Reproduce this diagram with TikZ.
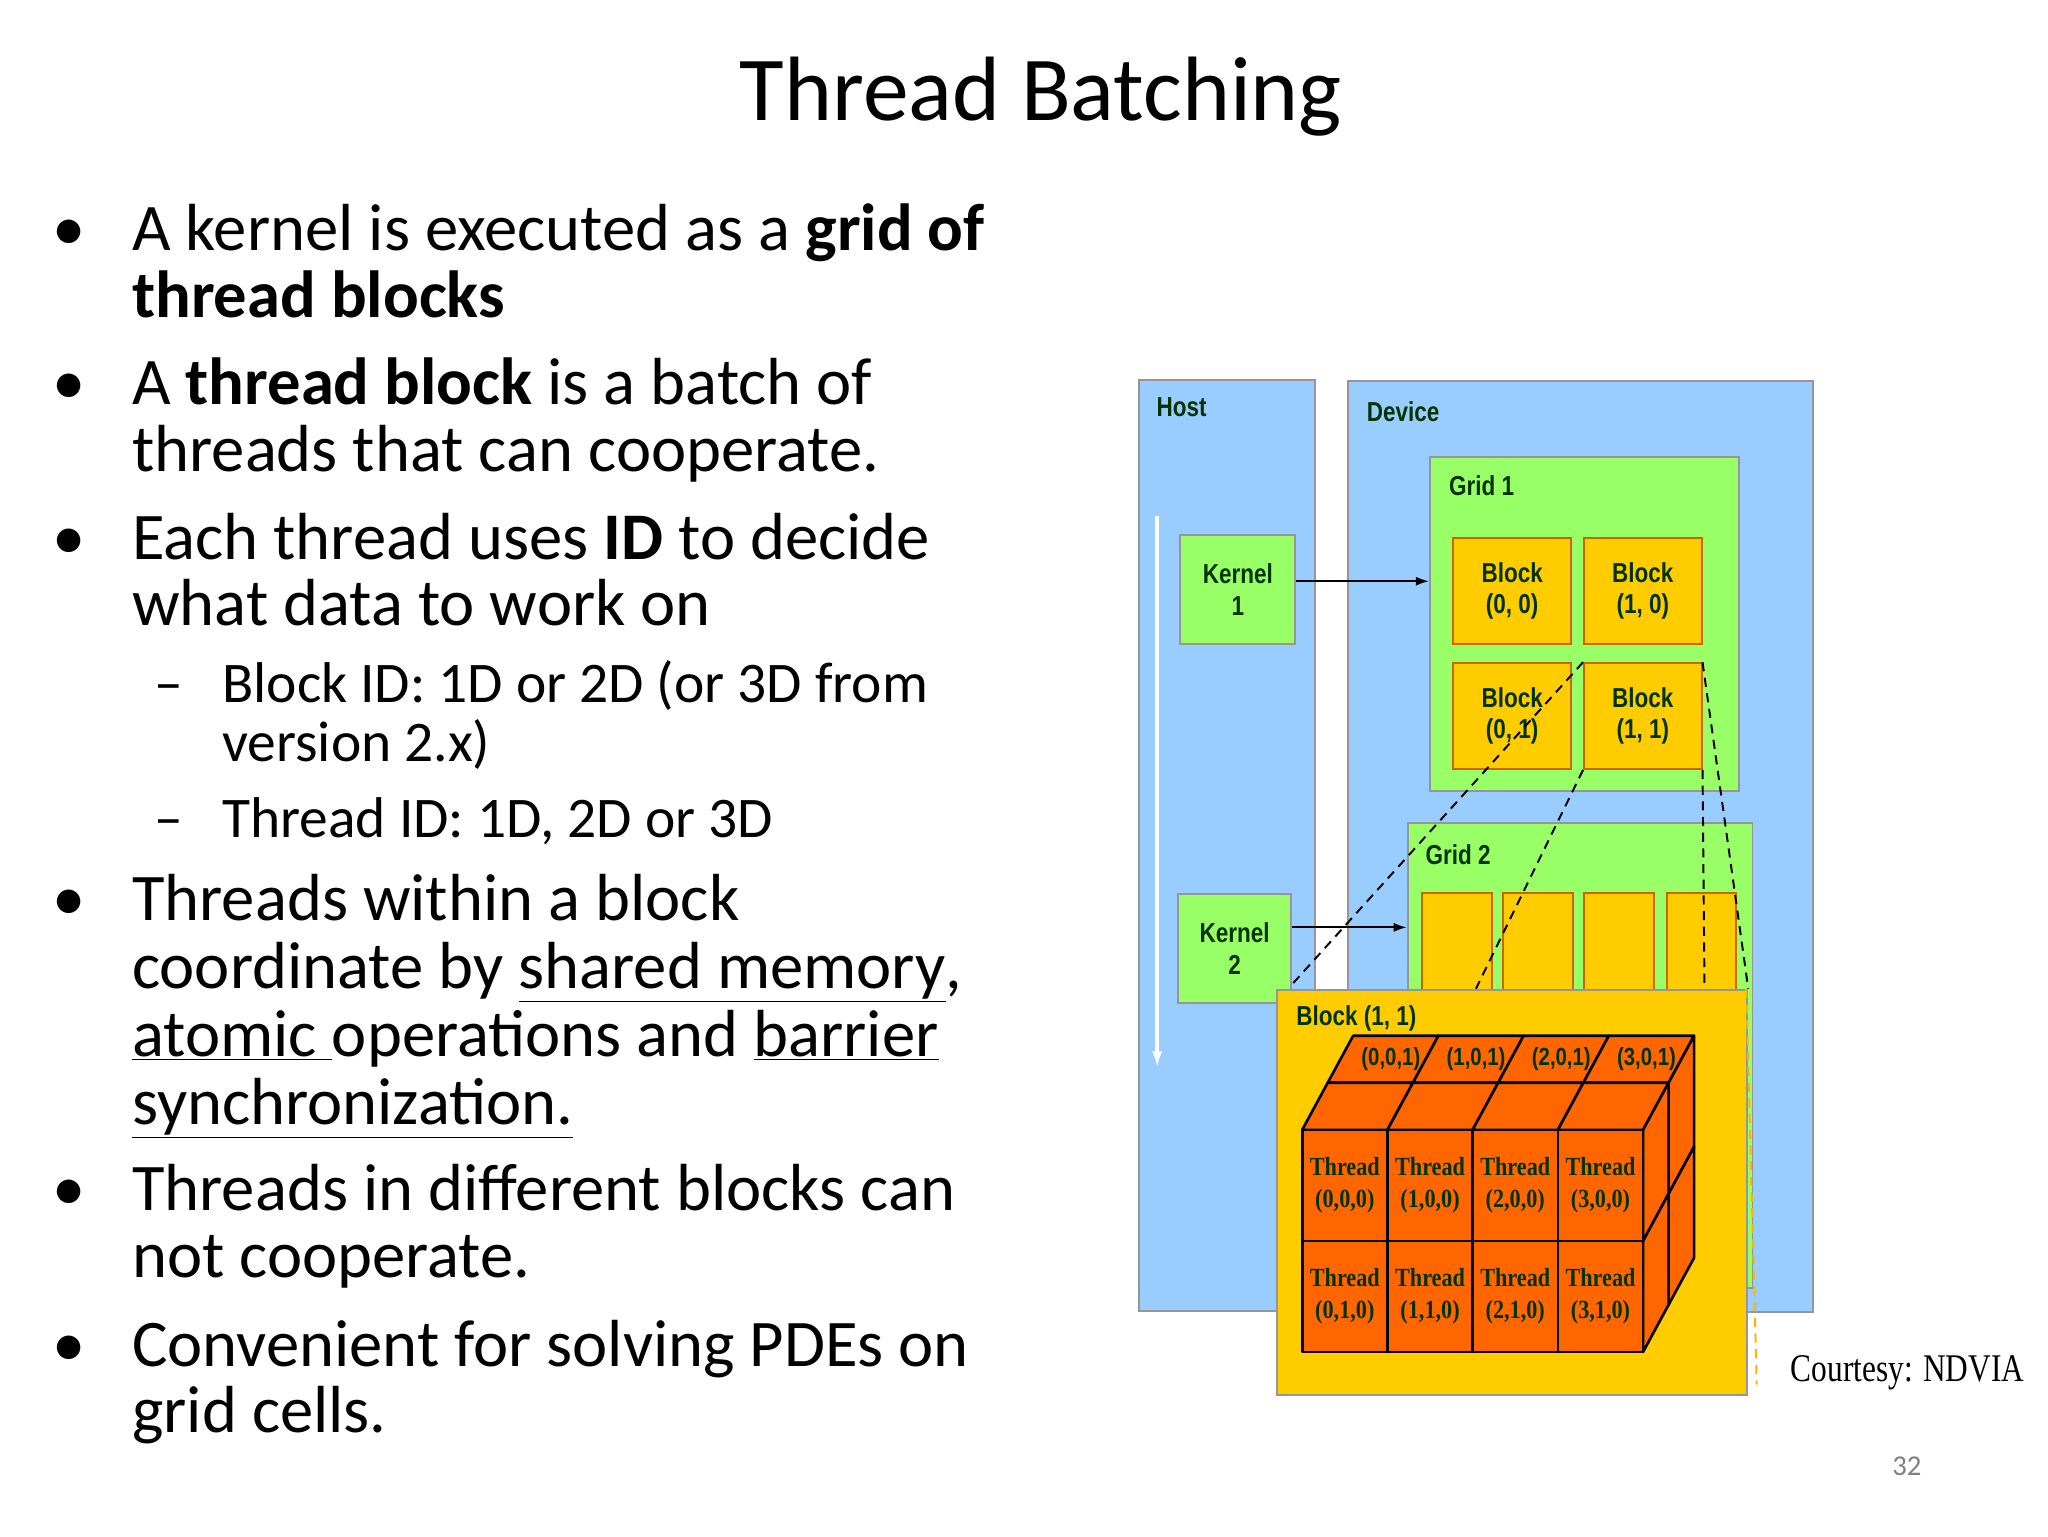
\documentclass[tikz,border=0pt]{standalone}
\usepackage{fontspec}
\setmainfont{Carlito}
\newfontfamily\dfont[FakeStretch=0.82]{Liberation Sans}
\newfontfamily\tfont[FakeStretch=0.85]{Liberation Serif}
\newfontfamily\cfont[FakeStretch=0.8]{Liberation Serif}
\definecolor{hostblue}{RGB}{153,204,255}
\definecolor{gridgreen}{RGB}{153,255,102}
\definecolor{blockgold}{RGB}{255,204,0}
\definecolor{cubeor}{RGB}{255,102,0}
\definecolor{dgreen}{RGB}{0,51,0}
\definecolor{bord}{RGB}{150,150,150}
\begin{document}
\begin{tikzpicture}[x=1pt,y=-1pt,
  box/.style={draw=bord,line width=1.5pt},
  dlab/.style={font=\dfont\bfseries\fontsize{21}{24}\selectfont,text=dgreen,align=center},
  blk/.style={box,draw=orange!80!black,fill=blockgold,minimum width=90pt,minimum height=81pt,anchor=north west,inner sep=0pt,dlab},
  bul/.style={anchor=base west,inner sep=0pt,font=\fontsize{51}{60}\selectfont},
  cell/.style={draw=black,line width=2pt,fill=cubeor,line join=round},
  arr/.style={-{Latex[length=10pt,width=7pt]},line width=1.5pt},
  dsh/.style={dashed,line width=1.5pt,dash pattern=on 7pt off 5pt}]
\usetikzlibrary{arrows.meta}
\useasboundingbox (0,0) rectangle (1568,1176);
\fill[white] (0,0) rectangle (1568,1176);
% title
\node[anchor=base,font=\fontsize{70}{80}\selectfont] (title) at (797,92) {Thread Batching};
% bullets
\foreach \y in {192,310,428,705,927,1046} \node[bul] at (40,\y) {•};
\node[bul] (b1) at (101,192) {A kernel is executed as a \textbf{grid of}};
\node[bul] at (101,243) {\textbf{thread blocks}};
\node[bul] (b2) at (101,310) {A \textbf{thread block} is a batch of};
\node[bul] at (101,361) {threads that can cooperate.};
\node[bul] (b3) at (101,428) {Each thread uses \textbf{ID} to decide};
\node[bul] at (101,479) {what data to work on};
\node[bul,font=\fontsize{44}{50}\selectfont] at (118,538) {–};
\node[bul,font=\fontsize{44}{50}\selectfont] at (170,538) {Block ID: 1D or 2D (or 3D from};
\node[bul,font=\fontsize{44}{50}\selectfont] at (170,583) {version 2.x)};
\node[bul,font=\fontsize{44}{50}\selectfont] at (118,641) {–};
\node[bul,font=\fontsize{44}{50}\selectfont] at (170,641) {Thread ID: 1D, 2D or 3D};
\node[bul] (b4) at (101,705) {Threads within a block};
\node[bul] at (101,757) {coordinate by \underline{shared memory},};
\node[bul] at (101,809) {\underline{atomic }operations and \underline{barrier}};
\node[bul] at (101,861) {\underline{synchronization.}};
\node[bul] (b5) at (101,927) {Threads in different blocks can};
\node[bul] at (101,978) {not cooperate.};
\node[bul] (b6) at (101,1046) {Convenient for solving PDEs on};
\node[bul] at (101,1097) {grid cells.};
% host / device
\node[box,fill=hostblue,minimum width=135pt,minimum height=713pt,anchor=north west,inner sep=0pt] (host) at (871,290) {};
\node[dlab,anchor=west] at (882,312) {Host};
\node[box,fill=hostblue,minimum width=356pt,minimum height=713pt,anchor=north west,inner sep=0pt] (dev) at (1031,291) {};
\node[dlab,anchor=west] at (1043,315) {Device};
\draw[white,line width=3pt,-{Latex[length=12pt,width=8pt]}] (886,395) coordinate (ha) -- (886,817) coordinate (hb);
% grid 1
\node[box,fill=gridgreen,minimum width=237pt,minimum height=256pt,anchor=north west,inner sep=0pt] (g1) at (1094,349) {};
\node[dlab,anchor=west] at (1106,372) {Grid 1};
\node[blk] (b00) at (1112,411) {Block\\(0, 0)};
\node[blk] (b10) at (1212,411) {Block\\(1, 0)};
\node[blk] (b01) at (1112,507) {Block\\(0, 1)};
\node[blk] (b11) at (1212,507) {Block\\(1, 1)};
% grid 2
\node[box,fill=gridgreen,minimum width=264pt,minimum height=356pt,anchor=north west,inner sep=0pt] (g2) at (1077,629) {};
\node[dlab,anchor=west] at (1088,654) {Grid 2};
\foreach \x in {1089,1151,1213,1276}
  \draw[draw=orange!80!black,fill=blockgold,line width=1.5pt] (\x,684) rectangle ++(53,90);
% kernels
\node[box,fill=gridgreen,minimum width=88pt,minimum height=83pt,anchor=north west,inner sep=0pt,dlab] (k1) at (903,409) {Kernel\\1};
\node[box,fill=gridgreen,minimum width=87pt,minimum height=83pt,anchor=north west,inner sep=0pt,dlab] (k2) at (901,684) {Kernel\\2};
\draw[arr] (k1.east |- 0,445) -- (g1.west |- 0,445);
\draw[arr] (k2.east |- 0,710) -- (g2.west |- 0,710);
% big block
\node[box,fill=blockgold,minimum width=360pt,minimum height=310pt,anchor=north west,inner sep=0pt] (bb) at (977,757) {};
\node[dlab,anchor=west] at (989,780) {Block (1, 1)};
% dashed connectors
\draw[dsh] (b11.north west) -- (988,755);
\draw[dsh] (b11.south west) -- (1130,757);
\draw[dsh] (b11.north east) -- (bb.north east);
\draw[dsh] (b11.south east) -- (1305,757);
\draw[dsh,draw=orange!60!yellow] (1337,757) -- (1345,1060);
% cube
\def\xo{997}\def\cw{65.25}\def\yt{865}\def\rh{85}\def\dx{19.5}\def\dy{-36}
\foreach \k in {2,1}{
  \foreach \i in {0,1,2,3}{
    \fill[cubeor,draw=black,line width=2pt,line join=round]
      ({\xo+\i*\cw+\k*\dx},{\yt+\k*\dy}) -- ({\xo+(\i+1)*\cw+\k*\dx},{\yt+\k*\dy})
      -- ({\xo+(\i+1)*\cw+(\k-1)*\dx},{\yt+(\k-1)*\dy}) -- ({\xo+\i*\cw+(\k-1)*\dx},{\yt+(\k-1)*\dy}) -- cycle;}
  \foreach \j in {0,1}{
    \fill[cubeor,draw=black,line width=2pt,line join=round]
      ({\xo+4*\cw+\k*\dx},{\yt+\j*\rh+\k*\dy}) -- ({\xo+4*\cw+(\k-1)*\dx},{\yt+\j*\rh+(\k-1)*\dy})
      -- ({\xo+4*\cw+(\k-1)*\dx},{\yt+(\j+1)*\rh+(\k-1)*\dy}) -- ({\xo+4*\cw+\k*\dx},{\yt+(\j+1)*\rh+\k*\dy}) -- cycle;}
}
\foreach \i in {0,1,2,3}{
  \node[dlab,font=\dfont\bfseries\fontsize{19}{22}\selectfont,text=dgreen] at ({\xo+(\i+0.5)*\cw+1.5*\dx+6},{\yt+1.5*\dy}) {(\i,0,1)};
  \foreach \j in {0,1}{
    \draw[cell] ({\xo+\i*\cw},{\yt+\j*\rh}) rectangle ++(\cw,\rh);
    \node[align=center,text=dgreen,font=\tfont\bfseries\fontsize{20}{25}\selectfont,inner sep=0pt] at ({\xo+(\i+0.5)*\cw},{\yt+(\j+0.5)*\rh}) {Thread\\(\i,\j,0)};
  }}
% footer
\node[anchor=base west,font=\cfont\fontsize{30}{34}\selectfont,inner sep=0pt] (court) at (1371,1058) {Courtesy: NDVIA};
\node[anchor=base,text=gray,font=\fontsize{22}{26}\selectfont] (pg) at (1460,1130) {32};
\end{tikzpicture}
\end{document}
